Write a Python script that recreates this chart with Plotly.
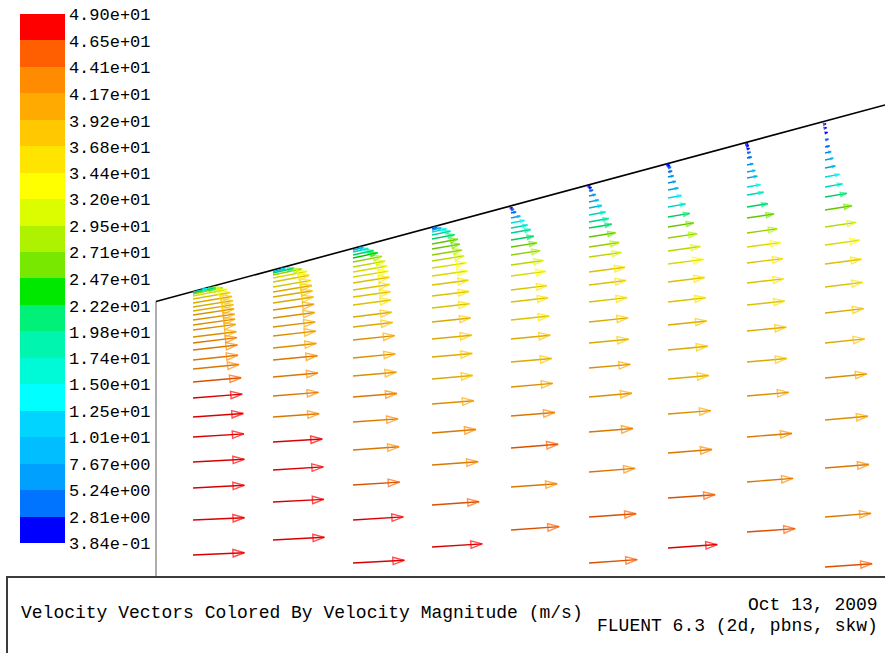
import plotly.graph_objects as go

# ---------------------------------------------------------------------------
# Velocity vectors in a diverging duct, sampled at nine axial stations.
# Coordinates are in plot units (x along the duct, y up from the lower edge).
# ---------------------------------------------------------------------------

# wall geometry
WALL_X = [1, 730]
WALL_Y = [275.5, 472]
INLET_X = [1, 1]
INLET_Y = [0, 275.5]

# axial position of each station
STATION_X = [38, 118, 198, 277, 356, 434, 513, 592, 670]

# node heights at each station (bottom -> wall)
ROW_Y = [
    [22, 57, 89, 115, 140, 160, 179, 195, 208, 217, 227, 234, 240, 247, 252, 257, 262, 266, 270, 274, 278, 281, 283, 284, 284.7],
    [37, 75, 107, 135, 160, 181, 200, 217, 229, 241, 250, 259, 267, 274, 280, 285, 290, 295, 299, 302, 304, 305.5],
    [14, 57, 92, 127, 155, 180, 201, 219, 237, 250, 260, 272, 280, 287, 294, 300, 305, 310, 315, 319, 322, 325, 327],
    [30, 72, 112, 144, 173, 198, 220, 238, 255, 269, 281, 292, 301, 309, 316, 322, 328, 333, 338, 342, 345, 347, 348.5],
    [47, 90, 129, 161, 190, 215, 238, 257, 275, 287, 301, 312, 322, 330, 337, 344, 349, 354, 359, 364, 367, 369],
    [14, 60, 105, 145, 180, 209, 234, 255, 275, 292, 305, 320, 330, 340, 349, 355, 362, 369, 375, 381, 386, 389, 391],
    [29, 79, 124, 163, 198, 227, 252, 275, 295, 313, 326, 339, 350, 360, 370, 379, 387, 394, 400, 405, 409, 411, 412.5],
    [45, 95, 140, 181, 215, 246, 272, 294, 314, 330, 344, 359, 370, 382, 390, 399, 405, 412, 419, 424, 428, 431, 433],
    [10, 60, 109, 157, 199, 234, 264, 290, 313, 332, 350, 367, 380, 390, 400, 409, 417, 424, 430, 437, 444, 449, 453],
]

# velocity magnitude (m/s) at each node
SPEED = [
    [49, 49, 49, 49, 48.5, 48, 47, 46, 44, 43, 42.5, 42, 41.5, 41, 40.5, 40, 39.5, 39, 38.5, 37.5, 36, 33, 29, 22, 14],
    [49, 48.5, 48, 47, 44, 43.5, 43, 42.5, 41.5, 41, 40.5, 40, 39.5, 39, 38, 37.5, 36.5, 35, 33, 28, 20, 12],
    [49, 48, 44.5, 44, 43, 42, 41.5, 40.5, 40, 38, 37, 36.5, 36, 35.5, 35, 34, 33, 31, 28, 24, 20, 15, 10],
    [48, 45, 44, 42, 40, 39, 38.5, 38, 37, 36, 35.5, 35, 34, 33, 31, 29, 27, 25, 22, 18, 14, 9, 5],
    [46, 44, 45, 42, 40, 39, 37.5, 36.5, 35.5, 34.5, 33.5, 31, 28, 25, 22, 19, 16, 13, 9, 5, 3, 1.5],
    [46, 45, 44, 42, 41, 39.5, 38, 37.5, 36.5, 35.5, 34.5, 31, 29, 25.5, 22, 19, 16, 12.5, 9.5, 6.5, 4, 2.5, 1.2],
    [47, 45, 42, 41, 39, 38, 37, 36, 35, 34, 31, 28, 25, 21, 17, 13, 10, 7.5, 5.5, 4, 3, 2, 1],
    [46, 44, 43, 40, 38, 37.5, 36, 35, 34.5, 32, 29, 26, 20, 16, 13, 10, 8, 6, 4.5, 3.5, 2.5, 1.8, 1],
    [45, 44, 42, 41, 40, 38, 37, 36, 35, 33.5, 30, 26, 21, 17, 14, 10, 8, 6, 4.5, 3.5, 2.5, 1.5, 1],
]

# flow direction (degrees above the axis) at each node
FLOW_ANGLE = [
    [2.5, 2.5, 3, 3, 3.5, 4, 4.5, 5, 5.5, 6, 6.5, 7, 7, 7.5, 8, 8, 8.5, 9, 9, 9.5, 10, 11, 12, 13, 14],
    [3, 3, 3.5, 3.5, 4, 4.5, 5, 5.5, 6, 6.5, 7, 7.5, 8, 8.5, 9, 9.5, 10, 10.5, 11, 12, 13, 14],
    [3, 3.5, 3.5, 4, 4, 4.5, 5, 5.5, 6, 6.5, 7, 7.5, 8, 8.5, 9, 9.5, 10, 10.5, 11, 12, 12.5, 13, 14],
    [3.5, 4, 4, 4.5, 4.5, 5, 5, 5.5, 6, 6.5, 7, 7.5, 8, 8.5, 9, 9.5, 10, 10.5, 11, 12, 12.5, 13, 14],
    [4, 4, 4.5, 4.5, 5, 5, 5.5, 6, 6.5, 7, 7.5, 8, 8.5, 9, 9.5, 10, 10.5, 11, 12, 13, 14, 14.5],
    [4, 4, 4.5, 4.5, 5, 5, 5.5, 6, 6.5, 7, 7.5, 8, 8.5, 9, 9.5, 10, 10.5, 11, 12, 12.5, 13, 14, 14.5],
    [4, 4, 4.5, 4.5, 5, 5.5, 6, 6.5, 7, 7.5, 8, 8.5, 9, 9.5, 10, 10.5, 11, 12, 12.5, 13, 14, 14.5, 15],
    [4, 4.5, 4.5, 5, 5, 5.5, 6, 6.5, 7, 7.5, 8, 8.5, 9, 9.5, 10, 10.5, 11, 12, 12.5, 13, 14, 14.5, 15],
    [4, 4.5, 4.5, 5, 5.5, 6, 6.5, 7, 7.5, 8, 8.5, 9, 9.5, 10, 10.5, 11, 12, 12.5, 13, 13.5, 14, 14.5, 15],
]

# colour legend levels (low -> high) and the 20 band colours between them
TICK_LABELS = [
    "3.84e-01", "2.81e+00", "5.24e+00", "7.67e+00", "1.01e+01", "1.25e+01",
    "1.50e+01", "1.74e+01", "1.98e+01", "2.22e+01", "2.47e+01", "2.71e+01",
    "2.95e+01", "3.20e+01", "3.44e+01", "3.68e+01", "3.92e+01", "4.17e+01",
    "4.41e+01", "4.65e+01", "4.90e+01",
]
BAND_COLORS = [
    (0, 0, 255), (0, 115, 255), (0, 160, 255), (0, 190, 255),
    (0, 212, 255), (0, 255, 255), (0, 250, 215), (0, 245, 175),
    (0, 240, 120), (0, 232, 0), (120, 232, 0), (175, 242, 0),
    (220, 252, 0), (255, 255, 0), (255, 228, 0), (255, 200, 0),
    (255, 170, 0), (255, 140, 0), (255, 95, 0), (255, 0, 0),
]

TITLE = "Velocity Vectors Colored By Velocity Magnitude (m/s)"
DATE = "Oct 13, 2009"
SOLVER = "FLUENT 6.3 (2d, pbns, skw)"

ARROW_SCALE = 1.05  # plot units per m/s
SHAFT_SHADE = 0.85  # shafts drawn a little darker than the heads
MONO = "Liberation Mono"

# ---------------------------------------------------------------------------
import math


def rgb(c, k=1.0):
    return "rgb({},{},{})".format(*(int(round(v * k)) for v in c))


TICK_VALS = [float(s) for s in TICK_LABELS]
VMIN, VMAX = TICK_VALS[0], TICK_VALS[-1]
NB = len(BAND_COLORS)

colorscale = []
for i, c in enumerate(BAND_COLORS):
    colorscale.append([i / NB, rgb(c)])
    colorscale.append([(i + 1) / NB, rgb(c)])

# build arrow geometry
shafts = {i: ([], []) for i in range(NB)}
head_x, head_y, head_ang, head_size, head_val = [], [], [], [], []
for sx, ys, sp, an in zip(STATION_X, ROW_Y, SPEED, FLOW_ANGLE):
    for y, s, a in zip(ys, sp, an):
        length = s * ARROW_SCALE
        t = math.radians(a)
        hx = sx + length * math.cos(t)
        hy = y + length * math.sin(t)
        band = min(NB - 1, max(0, int((s - VMIN) / (VMAX - VMIN) * NB)))
        shafts[band][0].extend([sx, hx, None])
        shafts[band][1].extend([y, hy, None])
        head_x.append(hx)
        head_y.append(hy)
        head_ang.append(90 - a)
        head_size.append(max(2.5, min(12.0, length * 0.3)))
        head_val.append(s)

fig = go.Figure()

# duct walls
fig.add_trace(go.Scatter(x=INLET_X, y=INLET_Y, mode="lines",
                         line=dict(color="rgb(90,90,90)", width=1),
                         hoverinfo="skip", showlegend=False))
fig.add_trace(go.Scatter(x=WALL_X, y=WALL_Y, mode="lines",
                         line=dict(color="black", width=1.6),
                         hoverinfo="skip", showlegend=False))

# vector shafts, one trace per colour band
for b in range(NB):
    xs, ys = shafts[b]
    if not xs:
        continue
    fig.add_trace(go.Scatter(x=xs, y=ys, mode="lines",
                             line=dict(color=rgb(BAND_COLORS[b], SHAFT_SHADE), width=1.4),
                             hoverinfo="skip", showlegend=False))

# vector heads, coloured by magnitude (carries the colour legend)
fig.add_trace(go.Scatter(
    x=head_x, y=head_y, mode="markers", showlegend=False,
    text=[f"{v:.1f} m/s" for v in head_val], hoverinfo="text",
    marker=dict(
        symbol="arrow-open", size=head_size, angle=head_ang,
        color=head_val, colorscale=colorscale, cmin=VMIN, cmax=VMAX,
        line=dict(width=1.4),
        showscale=True,
        colorbar=dict(
            xref="container", x=20 / 885, xanchor="left", xpad=0,
            yref="container", y=1 - 16 / 653, yanchor="top", ypad=0,
            len=529, lenmode="pixels", thickness=45, thicknessmode="pixels",
            outlinewidth=0, ticks="", ticklen=0,
            tickvals=TICK_VALS, ticktext=TICK_LABELS,
            tickfont=dict(family=MONO, size=17, color="black"),
        ),
    ),
))

W, H = 885, 653
ML, MB = 155, 76
PW, PH = W - ML, H - MB


def px_x(p):
    return (p - ML) / PW


def px_y(p):
    return (PH - p) / PH


fig.update_layout(
    width=W, height=H,
    margin=dict(l=ML, r=0, t=0, b=MB),
    paper_bgcolor="white", plot_bgcolor="white",
    xaxis=dict(range=[0, PW], visible=False, fixedrange=True),
    yaxis=dict(range=[0, PH], visible=False, fixedrange=True),
    shapes=[dict(type="rect", xref="paper", yref="paper",
                 x0=px_x(7), x1=px_x(895), y0=px_y(577), y1=px_y(665),
                 line=dict(color="rgb(60,60,60)", width=2), fillcolor="rgba(0,0,0,0)")],
    annotations=[
        dict(xref="paper", yref="paper", x=px_x(19), y=px_y(613), xanchor="left", yanchor="middle",
             text=TITLE, showarrow=False, font=dict(family=MONO, size=18, color="black")),
        dict(xref="paper", yref="paper", x=px_x(880), y=px_y(605), xanchor="right", yanchor="middle",
             text=DATE, showarrow=False, font=dict(family=MONO, size=18, color="black")),
        dict(xref="paper", yref="paper", x=px_x(880), y=px_y(626), xanchor="right", yanchor="middle",
             text=SOLVER, showarrow=False, font=dict(family=MONO, size=18, color="black")),
    ],
)

fig.write_html("out.html")
